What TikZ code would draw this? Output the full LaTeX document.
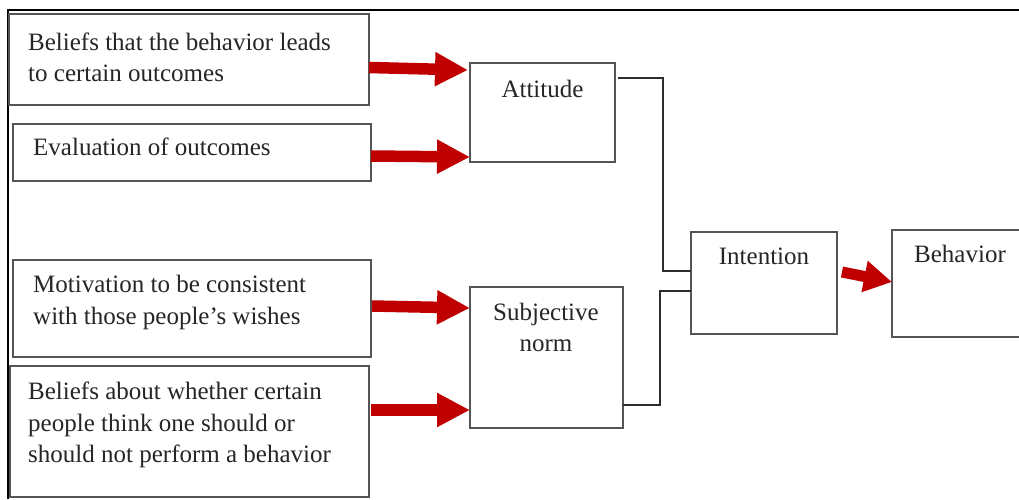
\documentclass[tikz,border=0pt]{standalone}
\usepackage{fontspec}
\setmainfont{Liberation Serif}
\usetikzlibrary{arrows.meta}
\definecolor{boxgray}{RGB}{85,85,85}
\definecolor{linkgray}{RGB}{45,45,45}
\definecolor{arrowred}{RGB}{192,0,0}
\tikzset{
  box/.style={draw=boxgray, line width=1.4pt, inner sep=0pt, outer sep=0pt,
              anchor=north west, fill=white},
  lbl/.style={inner sep=0pt, font=\fontsize{25}{31}\selectfont, text=black!85},
  link/.style={draw=linkgray, line width=1.3pt},
  redarrow/.style={draw=arrowred, line width=11.5pt,
                   -{Triangle[length=33pt, width=32pt]}},
  smallred/.style={draw=arrowred, line width=11pt,
                   -{Triangle[length=28pt, width=30pt]}},
}
\begin{document}
\begin{tikzpicture}[x=1pt, y=-1pt]
\useasboundingbox (0,0) rectangle (1019,499);

% outer frame corner
\draw[line width=2pt, black] (1019,9.5) -- (8,9.5) -- (8,499);

% input boxes
\node[box, minimum width=360pt, minimum height=91pt]  (b1) at (9,14) {};
\node[box, minimum width=358pt, minimum height=57pt]  (b2) at (13,124) {};
\node[box, minimum width=358pt, minimum height=97pt]  (b3) at (13,260) {};
\node[box, minimum width=359pt, minimum height=131pt] (b4) at (10,366) {};

% construct boxes
\node[box, minimum width=145pt, minimum height=99pt]  (att) at (470,63) {};
\node[box, minimum width=153pt, minimum height=141pt] (sn)  at (470,287) {};
\node[box, minimum width=146pt, minimum height=102pt] (int) at (691,232) {};
\node[box, minimum width=140pt, minimum height=107pt] (beh) at (892,230) {};

% box texts
\node[lbl, anchor=base west] (t1a) at (28,50) {Beliefs that the behavior leads};
\node[lbl, anchor=base west] (t1b) at (28,81) {to certain outcomes};
\node[lbl, anchor=base west] (t2)  at (33,155) {Evaluation of outcomes};
\node[lbl, anchor=base west] (t3a) at (33,292) {Motivation to be consistent};
\node[lbl, anchor=base west] (t3b) at (33,324) {with those people’s wishes};
\node[lbl, anchor=base west] (t4a) at (28,399) {Beliefs about whether certain};
\node[lbl, anchor=base west] (t4b) at (28,431) {people think one should or};
\node[lbl, anchor=base west] (t4c) at (28,462) {should not perform a behavior};

\node[lbl, anchor=base] (tatt) at (542.5,97) {Attitude};
\node[lbl, anchor=base] (tsn1) at (546,320) {Subjective};
\node[lbl, anchor=base] (tsn2) at (546,351) {norm};
\node[lbl, anchor=base] (tint) at (764,264) {Intention};
\node[lbl, anchor=base] (tbeh) at (960,262) {Behavior};

% red arrows into the constructs
\draw[redarrow] ([shift={(0,8)}]b1.east)    -- ([shift={(-2,-42.5)}]att.west);
\draw[redarrow] ([shift={(0,3.5)}]b2.east)  -- ([shift={(0,44.5)}]att.west);
\draw[redarrow] ([shift={(1,-2.5)}]b3.east) -- ([shift={(0,-49.5)}]sn.west);
\draw[redarrow] ([shift={(2,-21.5)}]b4.east) -- ([shift={(0,52.5)}]sn.west);
\draw[smallred] ([shift={(5,-11)}]int.east) -- ([shift={(0,-1.5)}]beh.west);

% elbow connectors into Intention
\draw[link] ([shift={(3,15)}]att.north east) -| ([shift={(-28,-12)}]int.west) -- ([shift={(0,-12)}]int.west);
\draw[link] ([shift={(0,-23)}]sn.south east) -| ([shift={(-31,8)}]int.west) -- ([shift={(0,8)}]int.west);
\end{tikzpicture}
\end{document}
